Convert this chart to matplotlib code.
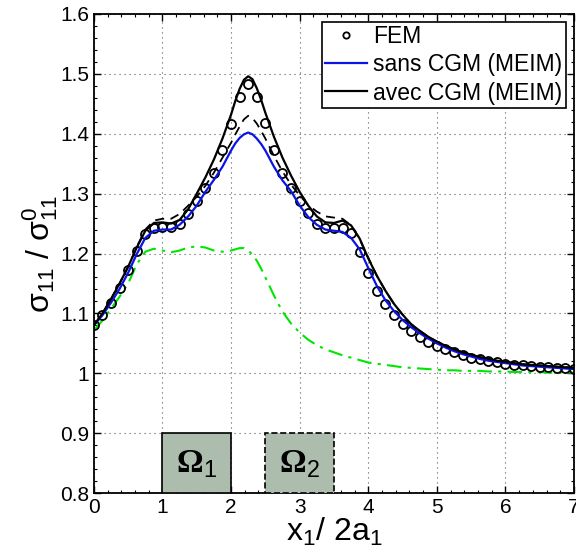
import matplotlib
matplotlib.use("Agg")
import matplotlib.pyplot as plt
from matplotlib.patches import Rectangle
from matplotlib.ticker import MultipleLocator, FuncFormatter

plt.rcParams['font.family'] = ['Liberation Sans', 'DejaVu Sans']
plt.rcParams['mathtext.fontset'] = 'custom'
plt.rcParams['mathtext.rm'] = 'Liberation Sans'
plt.rcParams['mathtext.it'] = 'Liberation Sans:italic'
plt.rcParams['mathtext.bf'] = 'Liberation Serif:bold'
plt.rcParams['mathtext.default'] = 'rm'

# FEM nodes (x1/2a1) and values
x_fem = [0, 0.125, 0.25, 0.375, 0.5, 0.625, 0.75, 0.875, 1, 1.125, 1.25, 1.375,
         1.5, 1.625, 1.75, 1.875, 2, 2.125, 2.25, 2.375, 2.5, 2.625, 2.75, 2.875,
         3, 3.125, 3.25, 3.375, 3.5, 3.625, 3.75, 3.875, 4, 4.125, 4.25, 4.375,
         4.5, 4.625, 4.75, 4.875, 5, 5.125, 5.25, 5.375, 5.5, 5.625, 5.75, 5.875,
         6, 6.125, 6.25, 6.375, 6.5, 6.625, 6.75, 6.875, 7]

fem = [1.080, 1.097, 1.118, 1.143, 1.172, 1.205, 1.232, 1.243, 1.245, 1.244, 1.249, 1.266,
       1.287, 1.309, 1.334, 1.373, 1.417, 1.461, 1.483, 1.462, 1.418, 1.373, 1.334, 1.309,
       1.287, 1.267, 1.250, 1.242, 1.242, 1.243, 1.235, 1.203, 1.167, 1.138, 1.115, 1.097,
       1.083, 1.071, 1.061, 1.053, 1.046, 1.040, 1.035, 1.030, 1.026, 1.023, 1.020, 1.018,
       1.016, 1.014, 1.013, 1.012, 1.011, 1.010, 1.009, 1.008, 1.007]

# curve samples (denser around the peak)
x_line = [0, 0.125, 0.25, 0.375, 0.5, 0.625, 0.75, 0.875, 1, 1.125, 1.25, 1.375,
          1.5, 1.625, 1.75, 1.875, 2, 2.0625, 2.125, 2.1875, 2.25, 2.3125, 2.375, 2.4375,
          2.5, 2.625, 2.75, 2.875,
          3, 3.125, 3.25, 3.375, 3.5, 3.625, 3.75, 3.875, 4, 4.125, 4.25, 4.375,
          4.5, 4.625, 4.75, 4.875, 5, 5.125, 5.25, 5.375, 5.5, 5.625, 5.75, 5.875,
          6, 6.125, 6.25, 6.375, 6.5, 6.625, 6.75, 6.875, 7]

sans_cgm = [1.080, 1.097, 1.118, 1.141, 1.168, 1.199, 1.226, 1.238, 1.240, 1.240, 1.248, 1.262,
            1.280, 1.303, 1.323, 1.345, 1.372, 1.384, 1.393, 1.399, 1.402, 1.399, 1.392, 1.383,
            1.372, 1.345, 1.322, 1.304,
            1.280, 1.261, 1.248, 1.240, 1.238, 1.236, 1.226, 1.207, 1.176, 1.146, 1.122, 1.104,
            1.089, 1.077, 1.067, 1.058, 1.050, 1.043, 1.037, 1.032, 1.028, 1.024, 1.021, 1.019,
            1.017, 1.015, 1.013, 1.012, 1.011, 1.010, 1.009, 1.008, 1.007]

avec_cgm = [1.080, 1.100, 1.124, 1.150, 1.178, 1.210, 1.238, 1.251, 1.252, 1.250, 1.256, 1.274,
            1.300, 1.327, 1.357, 1.392, 1.432, 1.455, 1.475, 1.490, 1.496, 1.491, 1.476, 1.457,
            1.435, 1.395, 1.360, 1.330,
            1.303, 1.280, 1.262, 1.252, 1.251, 1.255, 1.247, 1.225, 1.192, 1.163, 1.138, 1.116,
            1.098, 1.082, 1.071, 1.061, 1.053, 1.046, 1.040, 1.035, 1.031, 1.027, 1.024, 1.021,
            1.019, 1.017, 1.015, 1.014, 1.013, 1.012, 1.011, 1.010, 1.009]

dashed = [1.080, 1.100, 1.124, 1.150, 1.178, 1.211, 1.240, 1.255, 1.258, 1.258, 1.266, 1.280,
          1.295, 1.313, 1.335, 1.360, 1.385, 1.399, 1.412, 1.424, 1.430, 1.426, 1.417, 1.405,
          1.392, 1.363, 1.337, 1.315,
          1.297, 1.281, 1.270, 1.262, 1.260, 1.258, 1.247, 1.224, 1.193, 1.163, 1.138, 1.116,
          1.098, 1.082, 1.071, 1.061, 1.053, 1.046, 1.040, 1.035, 1.031, 1.027, 1.024, 1.021,
          1.019, 1.017, 1.015, 1.014, 1.013, 1.012, 1.011, 1.010, 1.009]

green = [1.072, 1.088, 1.108, 1.128, 1.150, 1.182, 1.203, 1.208, 1.205, 1.202, 1.205, 1.210,
         1.212, 1.210, 1.205, 1.203, 1.205, 1.207, 1.209, 1.209, 1.205, 1.198, 1.188, 1.175,
         1.160, 1.130, 1.103, 1.083,
         1.068, 1.056, 1.047, 1.040, 1.035, 1.030, 1.026, 1.022, 1.018, 1.016, 1.014, 1.012,
         1.010, 1.009, 1.008, 1.007, 1.006, 1.005, 1.005, 1.004, 1.004, 1.004, 1.003, 1.003,
         1.003, 1.002, 1.002, 1.002, 1.002, 1.001, 1.001, 1.001, 1.001]

# inclusion zones
zone_labels = [r'$\mathbf{Ω}_{1}$', r'$\mathbf{Ω}_{2}$']
zone_start = [1.0, 2.5]
zone_end = [2.0, 3.5]

fig = plt.figure(figsize=(5.76, 5.59), dpi=100)
ax = fig.add_axes([0.163, 0.118, 0.8335, 0.857])

ax.plot(x_line, green, color='#00e600', lw=1.5, linestyle=(0, (7, 3, 1.5, 3)))
ax.plot(x_line, dashed, color='black', lw=1.3, linestyle=(0, (5, 3.5)))
l_fem, = ax.plot(x_fem, fem, 'o', mfc='none', mec='black', ms=6.5, mew=1.3, label='FEM')
l_sans, = ax.plot(x_line, sans_cgm, color='#0a14e6', lw=1.6, label='sans CGM (MEIM)')
l_avec, = ax.plot(x_line, avec_cgm, color='black', lw=1.6, label='avec CGM (MEIM)')

for lab, a, b, ls in zip(zone_labels, zone_start, zone_end, ['-', '--']):
    ax.add_patch(Rectangle((a, 0.8), b - a, 0.1, facecolor='#adbdad', edgecolor='black',
                           lw=1.2, linestyle=ls, zorder=3))
    ax.text((a + b) / 2, 0.848, lab, ha='center', va='center', fontsize=24, zorder=4)

ax.set_xlim(0, 7)
ax.set_ylim(0.8, 1.6)
ax.xaxis.set_major_locator(MultipleLocator(1))
ax.xaxis.set_minor_locator(MultipleLocator(0.2))
ax.yaxis.set_major_locator(MultipleLocator(0.1))
ax.yaxis.set_minor_locator(MultipleLocator(0.02))
ax.yaxis.set_major_formatter(FuncFormatter(lambda v, p: '%g' % round(v, 2)))
ax.tick_params(which='both', direction='in', top=True, right=True, labelsize=15)
ax.tick_params(which='major', length=5, width=1)
ax.tick_params(which='minor', length=2.5, width=0.8)
ax.grid(True, which='major', color='0.35', linestyle=(0, (1, 3.5)), lw=0.8)
for s in ax.spines.values():
    s.set_linewidth(1.3)

ax.set_xlabel(r'$x_{1}$/ 2$a_{1}$', fontsize=23, labelpad=-1)
ax.set_ylabel(r'$σ_{11}$ / $σ^{0}_{11}$', fontsize=23, labelpad=0)

leg = ax.legend(handles=[l_fem, l_sans, l_avec], loc='upper right', fontsize=16.5,
                fancybox=False, edgecolor='black', framealpha=1, markerscale=0.7,
                handlelength=1.8, handletextpad=0.3, labelspacing=0.22,
                borderpad=0.15, borderaxespad=0.35)
leg.get_frame().set_linewidth(1.2)

fig.savefig('out.png', dpi=100)
